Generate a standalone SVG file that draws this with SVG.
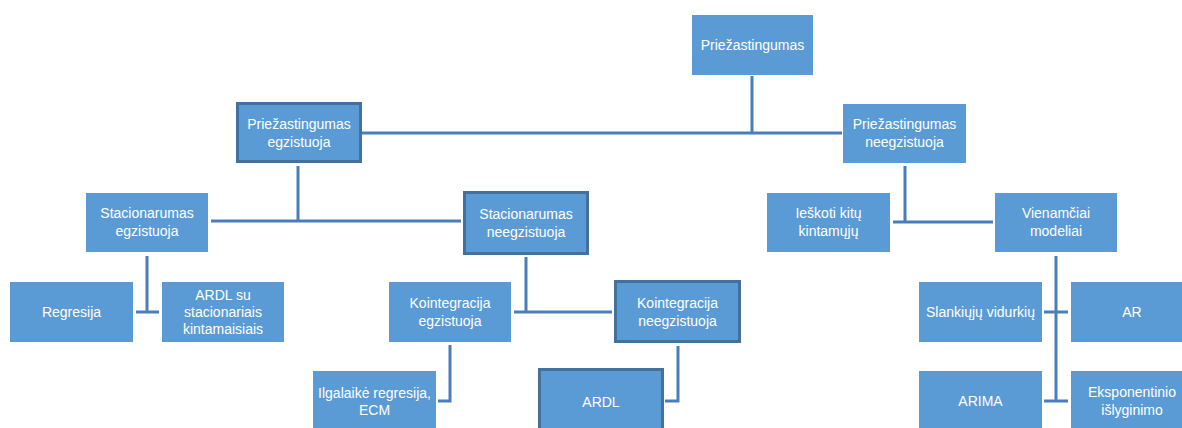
<svg xmlns="http://www.w3.org/2000/svg" width="1182" height="428" viewBox="0 0 1182 428">
<style>
.box{fill:#5B9BD5;}
.thick{fill:#5B9BD5;stroke:#41719C;stroke-width:3;}
.t{font-family:"Liberation Sans",Arial,sans-serif;font-size:14px;fill:#FFFFFF;text-anchor:middle;}
.c{fill:none;stroke:#4A7EBB;stroke-width:3;}
</style>
<rect width="1182" height="428" fill="#FFFFFF"/>
<g id="connectors">
<path class="c" d="M752,76 V133 M362,133 H842"/>
<path class="c" d="M298,166 V221 M211,221 H461"/>
<path class="c" d="M905,166 V222 M893,222 H993"/>
<path class="c" d="M147,256 V312 M136,312 H159"/>
<path class="c" d="M526,257 V312 M514,312 H612"/>
<path class="c" d="M450,345 V401 H438"/>
<path class="c" d="M678,346 V401 H665"/>
<path class="c" d="M1056,256 V401 M1044,312 H1068 M1044,401 H1068"/>
</g>
<g id="n-priez">
<rect class="box" x="692" y="15" width="121" height="60"/>
<text class="t" x="752.5" y="50">Priežastingumas</text>
</g>
<g id="n-priez-egz">
<rect class="thick" x="237.5" y="103.5" width="123" height="58"/>
<text class="t" x="299" y="129">Priežastingumas</text>
<text class="t" x="299" y="147">egzistuoja</text>
</g>
<g id="n-priez-neegz">
<rect class="box" x="843" y="104" width="123" height="59"/>
<text class="t" x="904.5" y="129">Priežastingumas</text>
<text class="t" x="904.5" y="147">neegzistuoja</text>
</g>
<g id="n-stac-egz">
<rect class="box" x="86" y="193" width="122" height="59"/>
<text class="t" x="147" y="218">Stacionarumas</text>
<text class="t" x="147" y="236">egzistuoja</text>
</g>
<g id="n-stac-neegz">
<rect class="thick" x="464.5" y="192.5" width="123" height="61"/>
<text class="t" x="526" y="219">Stacionarumas</text>
<text class="t" x="526" y="237">neegzistuoja</text>
</g>
<g id="n-ieskoti">
<rect class="box" x="767" y="193" width="123" height="59"/>
<text class="t" x="828.5" y="218">Ieškoti kitų</text>
<text class="t" x="828.5" y="236">kintamųjų</text>
</g>
<g id="n-vienamciai">
<rect class="box" x="995" y="193" width="122" height="59"/>
<text class="t" x="1056" y="218">Vienamčiai</text>
<text class="t" x="1056" y="236">modeliai</text>
</g>
<g id="n-regresija">
<rect class="box" x="10" y="282" width="123" height="60"/>
<text class="t" x="71.5" y="317">Regresija</text>
</g>
<g id="n-ardl-stac">
<rect class="box" x="162" y="282" width="122" height="60"/>
<text class="t" x="223" y="300">ARDL su</text>
<text class="t" x="223" y="317">stacionariais</text>
<text class="t" x="223" y="334">kintamaisiais</text>
</g>
<g id="n-koint-egz">
<rect class="box" x="389" y="282" width="122" height="60"/>
<text class="t" x="450" y="308">Kointegracija</text>
<text class="t" x="450" y="326">egzistuoja</text>
</g>
<g id="n-koint-neegz">
<rect class="thick" x="615.5" y="281.5" width="124" height="60"/>
<text class="t" x="677.5" y="308">Kointegracija</text>
<text class="t" x="677.5" y="326">neegzistuoja</text>
</g>
<g id="n-slankiuju">
<rect class="box" x="919" y="282" width="123" height="60"/>
<text class="t" x="980.5" y="317">Slankiųjų vidurkių</text>
</g>
<g id="n-ar">
<rect class="box" x="1071" y="282" width="123" height="60"/>
<text class="t" x="1132" y="317">AR</text>
</g>
<g id="n-ilgalaike">
<rect class="box" x="313" y="371" width="123" height="60"/>
<text class="t" x="374.5" y="398">Ilgalaikė regresija,</text>
<text class="t" x="374.5" y="415">ECM</text>
</g>
<g id="n-ardl">
<rect class="thick" x="539.5" y="369.5" width="123" height="62"/>
<text class="t" x="601" y="407">ARDL</text>
</g>
<g id="n-arima">
<rect class="box" x="919" y="371" width="123" height="60"/>
<text class="t" x="980.5" y="406">ARIMA</text>
</g>
<g id="n-eksponentinio">
<rect class="box" x="1071" y="371" width="123" height="60"/>
<text class="t" x="1132" y="397">Eksponentinio</text>
<text class="t" x="1132" y="415">išlyginimo</text>
</g>
</svg>
